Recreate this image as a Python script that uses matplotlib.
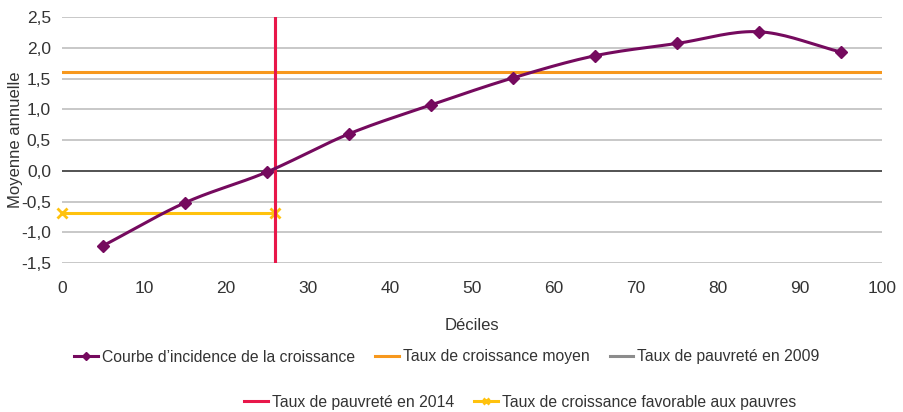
import matplotlib
matplotlib.use("Agg")
import matplotlib.pyplot as plt
from matplotlib.lines import Line2D
from matplotlib.ticker import FuncFormatter
import numpy as np

plt.rcParams['font.family'] = ['Liberation Sans Narrow', 'Liberation Sans', 'DejaVu Sans']

# données
deciles = [5, 15, 25, 35, 45, 55, 65, 75, 85, 95]
croissance = [-1.22, -0.52, -0.02, 0.60, 1.07, 1.51, 1.87, 2.07, 2.26, 1.93]
taux_moyen = 1.61
pauvrete_2009 = 26.0
pauvrete_2014 = 26.0
taux_favorable = -0.68

VIOLET = '#750A5E'
ORANGE = '#F7981D'
GRIS = '#8C8C8C'
ROUGE = '#E8174A'
JAUNE = '#FFC20E'


def catmull_rom(x, y, n=20):
    # lissage façon Excel
    x = np.asarray(x, float)
    y = np.asarray(y, float)
    px = np.concatenate([[2 * x[0] - x[1]], x, [2 * x[-1] - x[-2]]])
    py = np.concatenate([[2 * y[0] - y[1]], y, [2 * y[-1] - y[-2]]])
    xs, ys = [], []
    t = np.linspace(0, 1, n)
    for i in range(1, len(px) - 2):
        for p, out in ((px, xs), (py, ys)):
            p0, p1, p2, p3 = p[i - 1], p[i], p[i + 1], p[i + 2]
            out.extend(0.5 * (2 * p1 + (-p0 + p2) * t
                              + (2 * p0 - 5 * p1 + 4 * p2 - p3) * t ** 2
                              + (-p0 + 3 * p1 - 3 * p2 + p3) * t ** 3))
    return np.array(xs), np.array(ys)


fig = plt.figure(figsize=(9.04, 4.12), dpi=100)
ax = fig.add_axes([62 / 904, 1 - 263 / 412, 820 / 904, 246 / 412])

ax.set_xlim(0, 100)
ax.set_ylim(-1.5, 2.5)
ax.set_yticks(np.arange(-1.5, 2.51, 0.5))
ax.set_xticks(np.arange(0, 101, 10))
ax.yaxis.set_major_formatter(FuncFormatter(lambda v, p: f"{v:.1f}".replace('.', ',')))
ax.grid(axis='y', color='#BFBFBF', linewidth=1.2)
ax.set_axisbelow(True)
for s in ax.spines.values():
    s.set_visible(False)
ax.tick_params(length=0, labelsize=12.5, colors='#333333')
ax.tick_params(axis='y', pad=8)
ax.tick_params(axis='x', pad=13)
ax.axhline(0, color='#404040', linewidth=1.2, zorder=1)

ax.axhline(taux_moyen, color=ORANGE, linewidth=2.2, zorder=3)
ax.axvline(pauvrete_2009, color=GRIS, linewidth=2.2, zorder=2)
ax.axvline(pauvrete_2014, color=ROUGE, linewidth=2.2, zorder=4)
ax.plot([0, pauvrete_2014], [taux_favorable, taux_favorable], color=JAUNE, linewidth=2.2,
        marker='x', markersize=7, markeredgewidth=2, zorder=3, clip_on=False)

sx, sy = catmull_rom(deciles, croissance)
ax.plot(sx, sy, color=VIOLET, linewidth=2.2, zorder=5)
ax.plot(deciles, croissance, linestyle='none', marker='D', markersize=6, color=VIOLET, zorder=6)

ax.set_ylabel("Moyenne annuelle", fontsize=12, color='#333333')
ax.yaxis.set_label_coords(-0.048, 0.5)
ax.set_xlabel("Déciles", fontsize=12, color='#333333', labelpad=16)

h1 = [Line2D([], [], color=VIOLET, lw=2.2, marker='D', markersize=4),
      Line2D([], [], color=ORANGE, lw=2.2),
      Line2D([], [], color=GRIS, lw=2.2)]
l1 = ["Courbe d\u2019incidence de la croissance", "Taux de croissance moyen", "Taux de pauvreté en 2009"]
h2 = [Line2D([], [], color=ROUGE, lw=2.2),
      Line2D([], [], color=JAUNE, lw=2.2, marker='x', markersize=5, markeredgewidth=2)]
l2 = ["Taux de pauvreté en 2014", "Taux de croissance favorable aux pauvres"]
kw = dict(frameon=False, fontsize=11.3, handlelength=1.5, handletextpad=0.25,
          columnspacing=1.3, labelcolor='#333333')
fig.legend(h1, l1, ncol=3, loc='center', bbox_to_anchor=(447 / 904, 1 - 357 / 412), **kw)
fig.legend(h2, l2, ncol=2, loc='center', bbox_to_anchor=(520 / 904, 1 - 402 / 412), **kw)

fig.savefig("out.png", dpi=100)
